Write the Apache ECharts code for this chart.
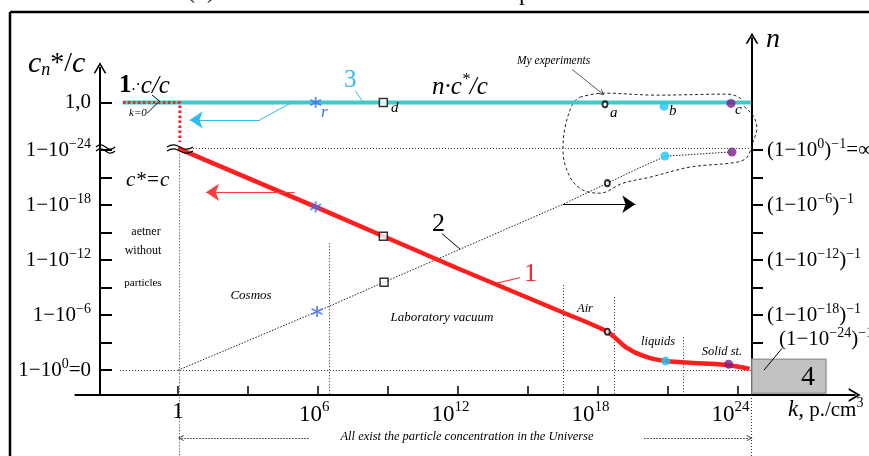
<!DOCTYPE html>
<html>
<head>
<meta charset="utf-8">
<script src="https://cdn.jsdelivr.net/npm/echarts@6.0.0/dist/echarts.min.js"></script>
<style>html,body{margin:0;padding:0;background:#fff}#main{width:869px;height:456px}</style>
</head>
<body>
<div id="main"></div>
<script>
var serif = '"Liberation Serif", "DejaVu Serif", serif';

// horizontal axis: log10 of k (p./cm3)
var xTicks = [0, 3, 6, 9, 12, 15, 18, 21, 24];
var xLabels = [0, 6, 12, 18, 24];
// left axis c_n*/c, in exponent units (0 -> 1-10^0, 24 -> 1-10^-24), 1,0 above the break
var yTicks = [0, 3, 6, 9, 12, 15, 18, 21, 24, 29.2];
var yLabels = [0, 6, 12, 18, 24, 29.2];
var yLabelText = ['1−10{s|0}=0', '1−10{s|−6}', '1−10{s|−12}', '1−10{s|−18}', '1−10{s|−24}', '1,0'];
// right axis n
var nTicks = [0, 3, 6, 9, 12, 15, 18, 21, 24];
var nLabels = [6, 12, 18, 24];
var nLabelText = ['(1−10{s|−18}){s|−1}', '(1−10{s|−12}){s|−1}', '(1−10{s|−6}){s|−1}', '(1−10{s|0}){s|−1}=∞'];

// curves
var curve1 = [[0, 24.2], [6, 17.7], [12, 11.1], [16.5, 6.3], [18.4, 4.2], [19.2, 2.5], [20, 1.5], [20.9, 1.0], [22.4, 0.75], [23.6, 0.55], [24.5, 0.15]];
var curve2 = [[0, 0], [5.96, 6.4], [8.83, 9.6], [12, 13.1], [16.5, 18.1], [18.4, 20.4], [19.8, 22.1], [20.9, 23.35], [23.7, 23.8]];
var curve3 = [[-2.36, 29.2], [24.55, 29.2]];
var limitK0 = [[-2.36, 29.2], [0.08, 29.2], [0.08, 24.9]];

// marked points
var stars = [[5.9, 29.2], [5.9, 17.8], [5.96, 6.4]];
var squares = [[8.8, 29.2], [8.8, 14.6], [8.83, 9.6]];
var pointsO = [[18.3, 29.0], [18.4, 20.4], [18.4, 4.2]];
var pointsB = [[20.83, 28.8], [20.87, 23.35], [20.9, 1.0]];
var pointsC = [[23.7, 29.1], [23.74, 23.8], [23.6, 0.65]];

// "My experiments" outline
var blob = [[17.23, 29.78], [18.21, 30.22], [20.53, 30.0], [23.53, 30.11], [24.09, 29.67], [24.3, 28.69], [24.64, 27.82],
  [24.81, 26.4], [24.64, 24.87], [24.39, 23.24], [23.96, 22.69], [21.94, 22.15], [20.23, 21.05], [19.07, 20.4],
  [18.09, 19.31], [17.36, 19.64], [16.8, 21.05], [16.5, 24.0], [16.59, 26.51], [16.93, 29.13], [17.23, 29.78]];

// dotted guides
var guides = [
  [[0.05, 24.2], [0.05, -9.6]], [[6.47, 13.85], [6.47, -2.7]], [[16.5, 9.3], [16.5, -2.7]],
  [[18.7, 8.0], [18.7, -2.7]], [[21.64, 3.6], [21.64, -2.7]], [[24.55, -2.7], [24.55, -9.6]],
  [[-2.49, 0], [24.55, 0]], [[0.64, 24.2], [24.55, 24.2]]
];
var cyan = '#2fbdf0', red = '#ff1f1f';
var leaders = [
  {coords: [[-1.11, 30.0], [-0.77, 29.3]], lineStyle: {color: '#000'}},
  {coords: [[-1.33, 28.0], [-0.86, 29.2]], lineStyle: {color: '#000'}},
  {coords: [[7.59, 30.5], [7.89, 29.4]], lineStyle: {color: cyan}},
  {coords: [[11.31, 14.9], [12.09, 13.2]], lineStyle: {color: '#000'}},
  {coords: [[14.66, 10.1], [13.67, 9.5]], lineStyle: {color: red}},
  {coords: [[25.89, 2.4], [25.11, 0]], lineStyle: {color: '#000'}},
  {coords: [[4.8, 29.1], [3.5, 27.3]], lineStyle: {color: cyan}}
];
var arrows = [
  {coords: [[3.5, 27.3], [0.5, 27.3]], lineStyle: {color: cyan}},
  {coords: [[5.0, 19.4], [1.2, 19.4]], lineStyle: {color: '#ff3a3a'}},
  {coords: [[16.5, 18.1], [19.6, 18.1]], lineStyle: {color: '#000'}}
];
var openArrows = [
  {coords: [[16.89, 32.8], [18.17, 30.2]], lineStyle: {type: 'solid'}},
  {coords: [[5.61, -7.4], [0.12, -7.4]]},
  {coords: [[19.97, -7.4], [24.5, -7.4]]}
];

var chev = 'path://M0,12L7,0L14,12L12,12L7,3.5L2,12Z';
var star = 'path://M5,0L5,10M0.7,2.5L9.3,7.5M0.7,7.5L9.3,2.5';

function T(x, y, text, o) {
  o = o || {};
  return {type: 'text', x: x, y: y, z: 100, silent: true, style: {
    text: text, fill: o.fill || '#000', fontSize: o.size || 14, fontFamily: serif,
    fontStyle: o.italic ? 'italic' : 'normal', fontWeight: o.bold ? 'bold' : 'normal',
    align: o.align || 'left', verticalAlign: o.va || 'middle', rich: o.rich
  }};
}
function tok(size, italic, pad, fill) {
  return {fontSize: size, fontFamily: serif, fontStyle: italic ? 'italic' : 'normal', fill: fill || '#000', padding: pad || [0, 0, 0, 0]};
}
function wave(x0, y, w) {
  return {type: 'polyline', z: 100, silent: true, shape: {points: [[x0, y], [x0 + w / 4, y - 2.2], [x0 + w / 2, y], [x0 + 3 * w / 4, y + 2.2], [x0 + w, y]], smooth: 0.5},
    style: {stroke: '#000', lineWidth: 1.2, fill: null}};
}

var myChart = echarts.init(document.getElementById('main'));

var option = {
  animation: false,
  backgroundColor: '#fff',
  grid: [
    {left: 75.33, right: 14.33, top: 67.63, bottom: 61, outerBoundsMode: 'none'},
    {left: 75.33, right: 14.33, top: 38.29, bottom: 61, outerBoundsMode: 'none'}
  ],
  xAxis: [{
    gridIndex: 0, type: 'value', min: -4.4, max: 29,
    axisLine: {show: true, onZero: false, symbol: ['none', chev], symbolSize: [14, 15], lineStyle: {color: '#000', width: 2}},
    axisTick: {show: true, inside: true, length: 9, customValues: xTicks, lineStyle: {color: '#000', width: 1.5}},
    axisLabel: {
      customValues: xLabels, margin: 5, color: '#000', fontFamily: serif, fontSize: 23,
      formatter: function (v) { return v === 0 ? '1' : '10{s|' + v + '}{h|' + v + '}'; },
      rich: {
        s: {fontSize: 15, fontFamily: serif, color: '#000', padding: [0, 0, 14, 0]},
        h: {fontSize: 15, fontFamily: serif, color: 'rgba(0,0,0,0)', padding: [0, 0, 14, 0]}
      }
    },
    splitLine: {show: false}
  }, {
    gridIndex: 1, type: 'value', min: -4.4, max: 29, show: false
  }],
  yAxis: [{
    gridIndex: 0, type: 'value', position: 'left', offset: -24.67, min: -2.7, max: 33,
    axisLine: {show: true, onZero: false, symbol: ['none', chev], symbolSize: [14, 11], lineStyle: {color: '#000', width: 2}},
    axisTick: {show: true, inside: true, length: 12, customValues: yTicks, lineStyle: {color: '#000', width: 2}},
    axisLabel: {
      customValues: yLabels, margin: 9, color: '#000', fontFamily: serif, fontSize: 21,
      formatter: function (v) { var i = yLabels.indexOf(v); return i < 0 ? '' : yLabelText[i]; },
      rich: {s: {fontSize: 14, fontFamily: serif, color: '#000', padding: [0, 0, 12, 0]}}
    },
    splitLine: {show: false}
  }, {
    gridIndex: 1, type: 'value', position: 'right', offset: -102.67, min: -2.7, max: 36.2,
    axisLine: {show: true, onZero: false, symbol: ['none', chev], symbolSize: [14, 11], lineStyle: {color: '#000', width: 2}},
    axisTick: {show: true, inside: false, length: 11, customValues: nTicks, lineStyle: {color: '#000', width: 2}},
    axisLabel: {
      customValues: nLabels, margin: 15, color: '#000', fontFamily: serif, fontSize: 21,
      formatter: function (v) { var i = nLabels.indexOf(v); return i < 0 ? '' : nLabelText[i]; },
      rich: {s: {fontSize: 14, fontFamily: serif, color: '#000', padding: [0, 0, 12, 0]}}
    },
    splitLine: {show: false}
  }],
  series: [
    {type: 'lines', coordinateSystem: 'cartesian2d', clip: false, silent: true, z: 1,
      lineStyle: {color: '#333', width: 1, type: [1, 2], opacity: 1}, data: guides.map(function (g) { return {coords: g}; })},
    {type: 'line', data: curve2, symbol: 'none', silent: true, z: 2, lineStyle: {color: '#222', width: 1, type: [1.5, 1.5]}},
    {type: 'line', data: blob, symbol: 'none', smooth: 0.35, silent: true, z: 2, lineStyle: {color: '#222', width: 1, type: [3, 2.5]}},
    {type: 'line', data: curve3, symbol: 'none', silent: true, z: 3, lineStyle: {color: '#3fc9c9', width: 4},
      markArea: {silent: true, itemStyle: {color: '#c2c2c2', borderColor: '#9a9a9a', borderWidth: 1.5},
        data: [[{coord: [24.6, 1.2]}, {coord: [27.77, -2.5]}]]}},
    {type: 'line', data: limitK0, symbol: 'none', silent: true, z: 4, lineStyle: {color: red, width: 3, type: [2.5, 2.5]}},
    {type: 'line', data: curve1, symbol: 'none', smooth: 0.3, silent: true, z: 4, lineStyle: {color: red, width: 4.5}},
    {type: 'lines', coordinateSystem: 'cartesian2d', clip: false, silent: true, z: 5,
      lineStyle: {width: 1, opacity: 1}, data: leaders},
    {type: 'lines', coordinateSystem: 'cartesian2d', clip: false, silent: true, z: 5,
      symbol: ['none', 'arrow'], symbolSize: [10, 13], lineStyle: {width: 1, opacity: 1}, data: arrows},
    {type: 'lines', coordinateSystem: 'cartesian2d', clip: false, silent: true, z: 5,
      symbol: ['none', chev], symbolSize: [7, 6], lineStyle: {width: 0.8, color: '#333', type: [2, 1], opacity: 1}, data: openArrows},
    {type: 'scatter', data: stars, symbol: star, symbolSize: 11, silent: true, z: 6,
      itemStyle: {color: 'rgba(0,0,0,0)', borderColor: '#3b6ef5', borderWidth: 1.8}},
    {type: 'scatter', data: squares, symbol: 'rect', symbolSize: 8, silent: true, z: 6,
      itemStyle: {color: '#fff', borderColor: '#000', borderWidth: 1.5}},
    {type: 'scatter', data: pointsO, symbol: 'circle', symbolSize: [5, 6], silent: true, z: 6,
      itemStyle: {color: '#fff', borderColor: '#000', borderWidth: 2}},
    {type: 'scatter', data: pointsB, symbol: 'circle', symbolSize: 9, silent: true, z: 6, itemStyle: {color: '#1ec6f2'}},
    {type: 'scatter', data: pointsC, symbol: 'circle', symbolSize: 9, silent: true, z: 6, itemStyle: {color: '#7d1c8c'}}
  ],
  graphic: [
    {type: 'line', z: 100, silent: true, shape: {x1: 10, y1: 12, x2: 869, y2: 12}, style: {stroke: '#000', lineWidth: 2.5}},
    {type: 'line', z: 100, silent: true, shape: {x1: 10, y1: 12, x2: 10, y2: 456}, style: {stroke: '#000', lineWidth: 2.5}},
    wave(96, 147, 19), wave(96, 151, 19), wave(167, 147, 26), wave(167, 151, 26),
    T(187, 4, '(  )', {size: 24, va: 'bottom'}),
    T(519, 6, 'p', {size: 24, va: 'bottom'}),
    T(28, 64, '{i|c}{n|n}{u|*/}{i|c}', {size: 28, rich: {i: tok(30, true), n: tok(18, true, [12, 0, 0, 0]), u: tok(28, false)}}),
    T(119, 86, '{b|1}{u|.·}{i|c/c}', {size: 24, rich: {b: {fontSize: 25, fontWeight: 'bold', fontFamily: serif, fill: '#000'}, u: tok(16, false), i: tok(25, true)}}),
    T(129, 113, 'k=0', {size: 11, italic: true}),
    T(344, 80, '3', {size: 25, fill: cyan}),
    T(432, 87, '{i|n·c}{s|*}{i|/c}', {size: 24, rich: {i: tok(25, true), s: tok(16, true, [0, 0, 14, 0])}}),
    T(517, 61, 'My experiments', {size: 11.5, italic: true}),
    T(126, 180, 'c*=c', {size: 21, italic: true}),
    T(146, 232, 'aetner', {size: 12, align: 'center'}),
    T(143, 251, 'without', {size: 12, align: 'center'}),
    T(143, 283, 'particles', {size: 11, align: 'center'}),
    T(251, 296, 'Cosmos', {size: 13, italic: true, align: 'center'}),
    T(442, 318, 'Laboratory vacuum', {size: 13, italic: true, align: 'center'}),
    T(585, 309, 'Air', {size: 12.5, italic: true, align: 'center'}),
    T(658, 342, 'liquids', {size: 12.5, italic: true, align: 'center'}),
    T(722, 352, 'Solid st.', {size: 12.5, italic: true, align: 'center'}),
    T(432, 224, '2', {size: 26}),
    T(524, 274, '1', {size: 26, fill: red}),
    T(321, 113, 'r', {size: 17, italic: true, fill: '#3b6ef5'}),
    T(391, 108, 'd', {size: 15, italic: true}),
    T(610, 113, 'a', {size: 15, italic: true}),
    T(669, 111, 'b', {size: 15, italic: true}),
    T(735, 110, 'c', {size: 15, italic: true}),
    T(467, 437, 'All exist the particle concentration in the Universe', {size: 12.5, italic: true, align: 'center'}),
    T(808, 378, '4', {size: 28, align: 'center'}),
    T(788, 410, '{i|k,} p./cm{s|3}', {size: 21, rich: {i: tok(23, true), s: tok(14, false, [0, 0, 13, 0])}}),
    T(766, 40, 'n', {size: 28, italic: true}),
    T(779, 339, '(1−10{s|−24}){s|−1}', {size: 21, rich: {s: tok(14, false, [0, 0, 12, 0])}})
  ]
};

myChart.setOption(option);
window.addEventListener('resize', function () {
  myChart.resize();
});
</script>
</body>
</html>
